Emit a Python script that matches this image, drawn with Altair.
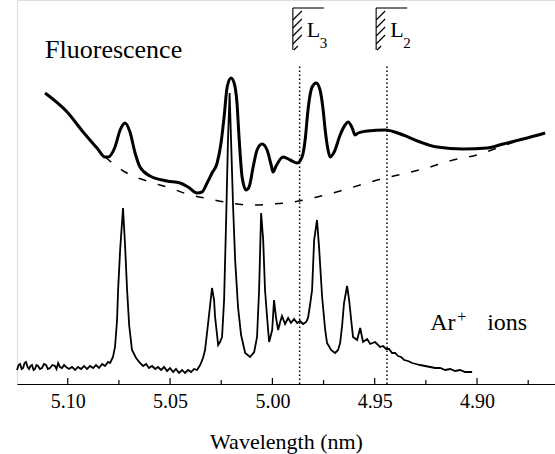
import altair as alt
import pandas as pd

# ---- data (wavelength in nm, intensity in arbitrary units) ----
fluor_wl = [5.1111, 5.1003, 5.0925, 5.0857, 5.0818, 5.0803, 5.0769, 5.0744, 5.0720, 5.0696,
            5.0671, 5.0647, 5.0598, 5.0515, 5.0451, 5.0412, 5.0368, 5.0344, 5.0319, 5.0295,
            5.0270, 5.0251, 5.0236, 5.0221, 5.0202, 5.0187, 5.0173, 5.0163, 5.0148, 5.0129,
            5.0114, 5.0094, 5.0075, 5.0050, 5.0026, 5.0006, 4.9997, 4.9982, 4.9948, 4.9913,
            4.9879, 4.9855, 4.9840, 4.9826, 4.9806, 4.9786, 4.9767, 4.9752, 4.9742, 4.9728,
            4.9718, 4.9698, 4.9669, 4.9645, 4.9630, 4.9610, 4.9596, 4.9581, 4.9537, 4.9449,
            4.9361, 4.9278, 4.9195, 4.9068, 4.8951, 4.8872, 4.8775, 4.8667]
fluor_int = [291, 272, 252, 236, 227, 227, 237, 254, 261, 252,
             231, 217, 208, 203, 201, 197, 191, 192, 201, 211,
             221, 241, 267, 297, 306, 301, 281, 247, 207, 194,
             197, 217, 234, 240, 234, 219, 212, 218, 227, 224,
             221, 227, 244, 274, 297, 301, 294, 274, 254, 234,
             227, 232, 249, 259, 262, 256, 249, 251, 253, 254,
             249, 242, 237, 235, 236, 240, 245, 251]

base_wl = [5.0818, 5.0769, 5.0720, 5.0598, 5.0500, 5.0417, 5.0305, 5.0207, 5.0109, 4.9997,
           4.9899, 4.9782, 4.9669, 4.9571, 4.9449, 4.9342, 4.9229, 4.9117, 4.9000, 4.8902,
           4.8775]
base_int = [227, 219, 212, 202, 196, 190, 185, 181, 179, 180,
            182, 187, 193, 199, 206, 211, 217, 224, 229, 236,
            245]

ion_wl = [5.1248, 5.1240, 5.1233, 5.1225, 5.1218, 5.1211, 5.1204, 5.1196, 5.1189, 5.1182,
          5.1175, 5.1167, 5.1160, 5.1153, 5.1145, 5.1136, 5.1126, 5.1116, 5.1106, 5.1097,
          5.1087, 5.1075, 5.1062, 5.1055, 5.1047, 5.1038, 5.1028, 5.1018, 5.1008, 5.0994,
          5.0979, 5.0964, 5.0950, 5.0935, 5.0920, 5.0906, 5.0891, 5.0876, 5.0862, 5.0847,
          5.0832, 5.0818, 5.0803, 5.0793, 5.0779, 5.0769, 5.0759, 5.0754, 5.0744, 5.0730,
          5.0720, 5.0710, 5.0700, 5.0686, 5.0666, 5.0647, 5.0632, 5.0617, 5.0603, 5.0588,
          5.0573, 5.0559, 5.0544, 5.0529, 5.0515, 5.0500, 5.0485, 5.0471, 5.0456, 5.0441,
          5.0427, 5.0412, 5.0397, 5.0383, 5.0368, 5.0353, 5.0339, 5.0329, 5.0314, 5.0295,
          5.0285, 5.0280, 5.0265, 5.0256, 5.0246, 5.0236, 5.0226, 5.0217, 5.0209, 5.0202,
          5.0192, 5.0182, 5.0168, 5.0153, 5.0133, 5.0109, 5.0089, 5.0075, 5.0065, 5.0055,
          5.0045, 5.0036, 5.0026, 5.0016, 5.0001, 4.9992, 4.9982, 4.9972, 4.9962, 4.9953,
          4.9938, 4.9923, 4.9909, 4.9894, 4.9879, 4.9865, 4.9850, 4.9835, 4.9826, 4.9816,
          4.9806, 4.9796, 4.9782, 4.9772, 4.9757, 4.9742, 4.9733, 4.9713, 4.9694, 4.9679,
          4.9669, 4.9659, 4.9650, 4.9635, 4.9625, 4.9615, 4.9606, 4.9586, 4.9571, 4.9557,
          4.9537, 4.9522, 4.9498, 4.9474, 4.9459, 4.9444, 4.9430, 4.9415, 4.9400, 4.9386,
          4.9371, 4.9356, 4.9337, 4.9317, 4.9298, 4.9278, 4.9254, 4.9229, 4.9205, 4.9180,
          4.9156, 4.9131, 4.9107, 4.9083, 4.9058, 4.9024]
ion_int = [14, 19, 20, 15, 16, 21, 22, 17, 15, 18,
           19, 14, 15, 19, 18, 15, 16, 20, 19, 15,
           16, 19, 18, 15, 21, 17, 16, 19, 17, 15,
           17, 14, 17, 15, 18, 15, 18, 16, 19, 16,
           20, 18, 22, 21, 27, 37, 64, 94, 134, 176,
           139, 94, 59, 34, 26, 21, 18, 20, 16, 18,
           15, 17, 14, 17, 13, 16, 12, 15, 11, 14,
           11, 14, 12, 15, 14, 19, 26, 34, 61, 96,
           84, 67, 39, 42, 47, 84, 164, 244, 291, 244,
           177, 124, 77, 49, 31, 27, 32, 47, 94, 171,
           144, 94, 67, 42, 54, 84, 66, 54, 62, 68,
           60, 66, 61, 65, 61, 63, 60, 62, 66, 79,
           94, 144, 164, 137, 87, 54, 41, 34, 31, 34,
           41, 59, 81, 98, 84, 64, 47, 44, 56, 42,
           45, 40, 42, 37, 38, 35, 35, 31, 31, 28,
           27, 24, 23, 21, 20, 19, 18, 17, 16, 16,
           14, 15, 13, 14, 12, 12]

edge_names = ["3", "2"]
edge_wl = [4.9867, 4.9440]          # dotted lines (L3, L2 edges)
box_wl = [4.9900, 4.9493]           # left side of the edge symbols
major_ticks = [5.10, 5.05, 5.00, 4.95, 4.90]
minor_ticks = [5.075, 5.025, 4.975, 4.925, 4.875]

X_DOMAIN = [4.8619, 5.1248]
Y_DOMAIN = [0, 384]
PX = 0.00048876                     # nm per pixel, used only for symbol offsets
FONT = "Liberation Serif, Times New Roman, DejaVu Serif, serif"

xs = alt.Scale(domain=X_DOMAIN, reverse=True, nice=False, zero=False)
ys = alt.Scale(domain=Y_DOMAIN, nice=False, zero=False)
x_axis = alt.Axis(values=major_ticks, format=".2f", ticks=False, tickSize=0, grid=False,
                  domainColor="black", domainWidth=1.2, labelFont=FONT, labelFontSize=20,
                  labelColor="black", labelPadding=7, labelFlush=False,
                  title="Wavelength (nm)", titleFont=FONT, titleFontSize=22,
                  titleFontWeight="normal", titleColor="black", titlePadding=20)
X = alt.X("w:Q", scale=xs, axis=x_axis)
Y = alt.Y("i:Q", scale=ys, axis=None)

fluor_df = pd.DataFrame({"w": fluor_wl, "i": fluor_int})
base_df = pd.DataFrame({"w": base_wl, "i": base_int})
ion_df = pd.DataFrame({"w": ion_wl, "i": ion_int})

fluor = alt.Chart(fluor_df).mark_line(color="black", strokeWidth=3, interpolate="monotone").encode(x=X, y=Y)
base = alt.Chart(base_df).mark_line(color="black", strokeWidth=1.5, strokeDash=[8, 12],
                                    interpolate="monotone").encode(x=X, y=Y)
ions = alt.Chart(ion_df).mark_line(color="black", strokeWidth=1.8).encode(x=X, y=Y)

# inward axis ticks
tick_df = pd.DataFrame({"w": major_ticks + minor_ticks,
                        "i": [0] * 10,
                        "i2": [6] * 5 + [4] * 5})
ticks = alt.Chart(tick_df).mark_rule(color="black", strokeWidth=1.2).encode(
    x=X, y=Y, y2="i2:Q")

# dotted edge lines
edge_df = pd.DataFrame({"w": edge_wl, "i": [0, 0], "i2": [319, 319]})
edges = alt.Chart(edge_df).mark_rule(color="black", strokeWidth=1.5, strokeDash=[1.5, 2.5]).encode(
    x=X, y=Y, y2="i2:Q")

# edge symbols: box outline (left side + top) and hatch strokes
seg_rows = []
for b in box_wl:
    seg_rows.append({"w": b, "w2": b, "i": 334, "i2": 376})
    seg_rows.append({"w": b, "w2": b - 31 * PX, "i": 376, "i2": 376})
    for lo in [364, 356, 348, 340]:
        seg_rows.append({"w": b, "w2": b - 9 * PX, "i": lo, "i2": lo + 9})
    seg_rows.append({"w": b - 1 * PX, "w2": b - 5 * PX, "i": 334, "i2": 338})
seg_df = pd.DataFrame(seg_rows)
segs = alt.Chart(seg_df).mark_rule(color="black", strokeWidth=1.1).encode(
    x=X, x2="w2:Q", y=Y, y2="i2:Q")

L_df = pd.DataFrame({"w": [b - 14 * PX for b in box_wl], "i": [347, 347], "t": ["L", "L"]})
L_text = alt.Chart(L_df).mark_text(font=FONT, fontSize=22, align="left", baseline="alphabetic",
                                   color="black").encode(x=X, y=Y, text="t:N")
sub_df = pd.DataFrame({"w": [b - 27 * PX for b in box_wl], "i": [336, 336], "t": edge_names})
sub_text = alt.Chart(sub_df).mark_text(font=FONT, fontSize=15, align="left", baseline="alphabetic",
                                       color="black").encode(x=X, y=Y, text="t:N")

fl_lbl = alt.Chart(pd.DataFrame({"w": [5.1111], "i": [326], "t": ["Fluorescence"]})).mark_text(
    font=FONT, fontSize=26, align="left", baseline="alphabetic", color="black").encode(x=X, y=Y, text="t:N")
ar_lbl = alt.Chart(pd.DataFrame({"w": [4.9229], "i": [54], "t": ["Ar"]})).mark_text(
    font=FONT, fontSize=24, align="left", baseline="alphabetic", color="black").encode(x=X, y=Y, text="t:N")
ions_lbl = alt.Chart(pd.DataFrame({"w": [4.8755], "i": [54], "t": ["ions"]})).mark_text(
    font=FONT, fontSize=24, align="right", baseline="alphabetic", color="black").encode(x=X, y=Y, text="t:N")
plus_lbl = alt.Chart(pd.DataFrame({"w": [4.9074], "i": [62], "t": ["+"]})).mark_text(
    font=FONT, fontSize=16, align="center", baseline="alphabetic", color="black").encode(x=X, y=Y, text="t:N")

chart = alt.layer(fluor, base, ions, ticks, edges, segs, L_text, sub_text,
                  fl_lbl, ar_lbl, ions_lbl, plus_lbl).properties(
    width=538, height=384,
    autosize=alt.AutoSizeParams(type="none"),
    padding={"left": 17, "top": 0, "right": 0, "bottom": 70},
).configure_view(stroke=None).configure(background="white")

chart.save("out.html", embed_options={"renderer": "svg", "actions": False})
